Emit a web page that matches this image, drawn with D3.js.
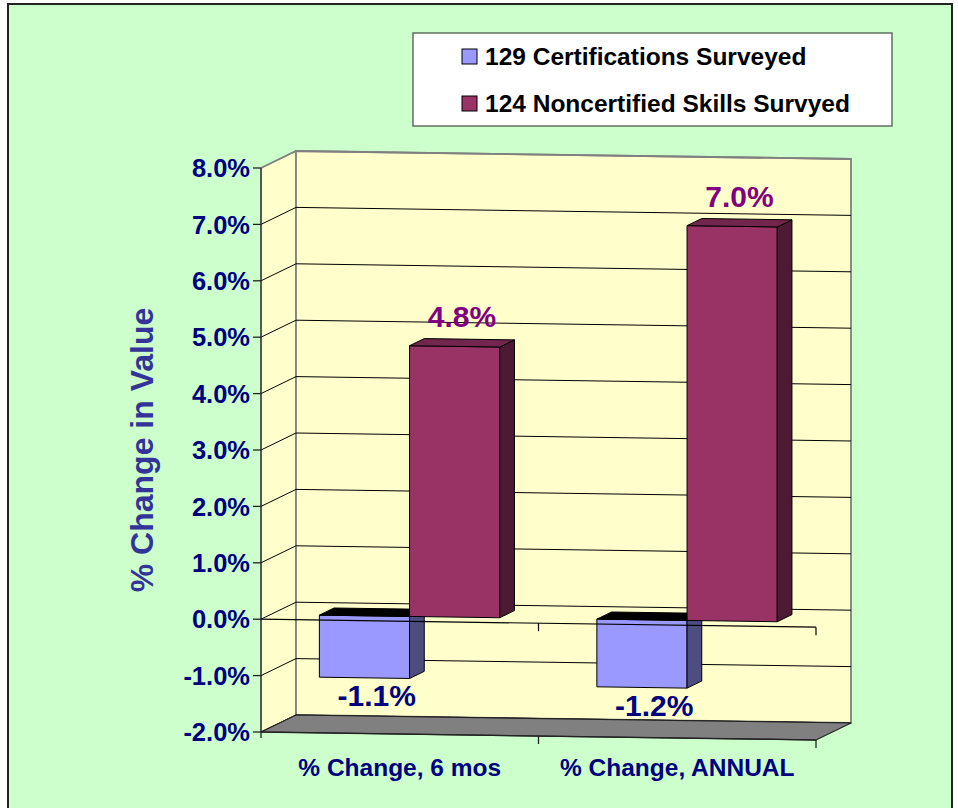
<!DOCTYPE html>
<html>
<head>
<meta charset="utf-8">
<script src="https://cdn.jsdelivr.net/npm/d3@7/dist/d3.min.js"></script>
<style>
  html, body { margin: 0; padding: 0; background: #ffffff; }
  svg { display: block; font-family: "Liberation Sans", Arial, sans-serif; font-weight: bold; }
</style>
</head>
<body>
<svg id="chart" width="958" height="808"></svg>
<script>
// ── Data ────────────────────────────────────────────────────────────────────
const categories = ['% Change, 6 mos', '% Change, ANNUAL'];
const seriesNames = ['129 Certifications Surveyed', '124 Noncertified Skills Survyed'];
const certValues = [-1.1, -1.2];
const noncertValues = [4.8, 7.0];
const yTicks = [-2, -1, 0, 1, 2, 3, 4, 5, 6, 7, 8];

const seriesColors = [
    { front: '#9999FF', side: '#4D4D80', top: '#000000', label: '#000080' },
    { front: '#993366', side: '#4C1A33', top: '#73264D', label: '#800080' }
];

// ── Layout / projection ─────────────────────────────────────────────────────
const X0 = 261, X1 = 816;          // front category axis extent
const TILT = 8;                     // slight slope of horizontal lines
const DX = 35, DY = -17;            // full wall depth offset
const Z0 = 0.28, Z1 = 0.70;         // bar depth inside the plot

const svg = d3.select('#chart');

const y = d3.scaleLinear().domain([-2, 8]).range([732, 168]);
const x = d3.scaleBand().domain(categories).range([X0, X1]);
const bw = x.bandwidth();
const barW = bw * 0.325;
const xs = d3.scaleBand().domain([0, 1])
    .range([0, barW * 2]);

function P(px, v, z) {
    return [px + z * DX, y(v) + (px - X0) / (X1 - X0) * TILT + z * DY];
}
const poly = pts => 'M' + pts.map(p => p.join(',')).join('L') + 'Z';

// outer frame
svg.append('rect')
    .attr('x', 8).attr('y', 4).attr('width', 944).attr('height', 840)
    .attr('fill', '#CCFFCC').attr('stroke', '#222').attr('stroke-width', 2);

// ── Walls & floor ───────────────────────────────────────────────────────────
const yMin = y.domain()[0], yMax = y.domain()[1];

svg.append('path')
    .attr('d', poly([P(X0, yMax, 0), P(X0, yMax, 1), P(X0, yMin, 1), P(X0, yMin, 0)]))
    .attr('fill', '#FFFFCC').attr('stroke', '#808080');

svg.append('path')
    .attr('d', poly([P(X0, yMax, 1), P(X1, yMax, 1), P(X1, yMin, 1), P(X0, yMin, 1)]))
    .attr('fill', '#FFFFCC').attr('stroke', '#808080').attr('stroke-width', 1.8);

// gridlines: side diagonal + back wall
const grid = svg.append('g').attr('fill', 'none');
yTicks.forEach(t => {
    const edge = (t === yMax);
    grid.append('path')
        .attr('d', 'M' + [P(X0, t, 0), P(X0, t, 1), P(X1, t, 1)].map(p => p.join(',')).join('L'))
        .attr('stroke', edge ? '#808080' : '#000')
        .attr('stroke-width', edge ? 1.8 : 1);
});

svg.append('path')
    .attr('d', poly([P(X0, yMin, 0), P(X0, yMin, 1), P(X1, yMin, 1), P(X1, yMin, 0)]))
    .attr('fill', '#808080').attr('stroke', '#222').attr('stroke-width', 1.2);

// ── Axes ────────────────────────────────────────────────────────────────────
const axis = svg.append('g').attr('stroke', '#222').attr('stroke-width', 1.3);
axis.append('line')
    .attr('x1', X0).attr('x2', X0).attr('y1', y(yMax)).attr('y2', y(yMin) + 6);
yTicks.forEach(t => {
    axis.append('line')
        .attr('x1', X0 - 8).attr('x2', X0).attr('y1', y(t)).attr('y2', y(t));
});

svg.append('g').selectAll('text')
    .data(yTicks)
    .join('text')
    .attr('x', X0 - 11)
    .attr('y', d => y(d))
    .attr('dy', '0.36em')
    .attr('text-anchor', 'end')
    .attr('font-size', 25.5)
    .attr('fill', '#000080')
    .text(d => d.toFixed(1) + '%');

// category axis on the floor
const bounds = categories.map(c => x(c) + bw);
const floorA = P(X0, yMin, 0), floorB = P(X1, yMin, 0);
axis.append('line')
    .attr('x1', floorA[0]).attr('y1', floorA[1]).attr('x2', floorB[0]).attr('y2', floorB[1]);
bounds.forEach(bx => {
    const p = P(bx, yMin, 0);
    axis.append('line').attr('x1', p[0]).attr('x2', p[0]).attr('y1', p[1]).attr('y2', p[1] + 8);
});

svg.append('g').selectAll('text')
    .data(categories)
    .join('text')
    .attr('x', d => x(d) + bw / 2)
    .attr('y', 776)
    .attr('text-anchor', 'middle')
    .attr('font-size', 24.5)
    .attr('fill', '#000080')
    .text(d => d);

svg.append('text')
    .attr('transform', 'translate(153,450) rotate(-90)')
    .attr('text-anchor', 'middle')
    .attr('font-size', 32)
    .attr('fill', '#333399')
    .text('% Change in Value');

// ── Bars ────────────────────────────────────────────────────────────────────
const allSeries = [certValues, noncertValues];
const bars = svg.append('g').attr('stroke', '#000').attr('stroke-width', 1).attr('stroke-linejoin', 'round');
const labelData = [];

categories.forEach((cat, ci) => {
    const gx = x(cat) + (bw - barW * 2) / 2;
    allSeries.forEach((vals, si) => {
        const v = vals[ci];
        const col = seriesColors[si];
        const a = gx + xs(si), b = a + barW;
        const v0 = Math.min(0, v), v1 = Math.max(0, v);

        bars.append('path')
            .attr('d', poly([P(a, v1, Z0), P(b, v1, Z0), P(b, v0, Z0), P(a, v0, Z0)]))
            .attr('fill', col.front);
        bars.append('path')
            .attr('d', poly([P(b, v1, Z0), P(b, v1, Z1), P(b, v0, Z1), P(b, v0, Z0)]))
            .attr('fill', col.side);
        bars.append('path')
            .attr('d', poly([P(a, v1, Z0), P(a, v1, Z1), P(b, v1, Z1), P(b, v1, Z0)]))
            .attr('fill', col.top);

        const mid = P((a + b) / 2, v, (Z0 + Z1) / 2);
        labelData.push({
            x: mid[0] + (v < 0 ? 5 : 0),
            y: v < 0 ? P(a, v, Z0)[1] + 29 : P(a, v, Z0)[1] - 19,
            text: v.toFixed(1) + '%',
            color: col.label
        });
    });
});

// zero line across the front, drawn over the bars
const z0a = P(X0, 0, 0), z0b = P(X1, 0, 0);
axis.raise();
svg.append('line')
    .attr('x1', z0a[0]).attr('y1', z0a[1]).attr('x2', z0b[0]).attr('y2', z0b[1])
    .attr('stroke', '#000').attr('stroke-width', 1.2);
bounds.forEach(bx => {
    const p = P(bx, 0, 0);
    svg.append('line').attr('x1', p[0]).attr('x2', p[0]).attr('y1', p[1]).attr('y2', p[1] + 8)
        .attr('stroke', '#000').attr('stroke-width', 1.2);
});

svg.append('g').selectAll('text')
    .data(labelData)
    .join('text')
    .attr('x', d => d.x)
    .attr('y', d => d.y)
    .attr('text-anchor', 'middle')
    .attr('font-size', 30)
    .attr('fill', d => d.color)
    .text(d => d.text);

// ── Legend ──────────────────────────────────────────────────────────────────
const legend = svg.append('g').attr('transform', 'translate(413,33)');
legend.append('rect')
    .attr('width', 479).attr('height', 93)
    .attr('fill', '#fff').attr('stroke', '#5f6f5f').attr('stroke-width', 1.5);
seriesNames.forEach((name, i) => {
    const row = legend.append('g').attr('transform', `translate(49,${16 + i * 47})`);
    row.append('rect')
        .attr('width', 15).attr('height', 15)
        .attr('fill', seriesColors[i].front).attr('stroke', '#000');
    row.append('text')
        .attr('x', 23).attr('y', 16)
        .attr('font-size', 24.5)
        .attr('fill', '#000')
        .text(name);
});
</script>
</body>
</html>
